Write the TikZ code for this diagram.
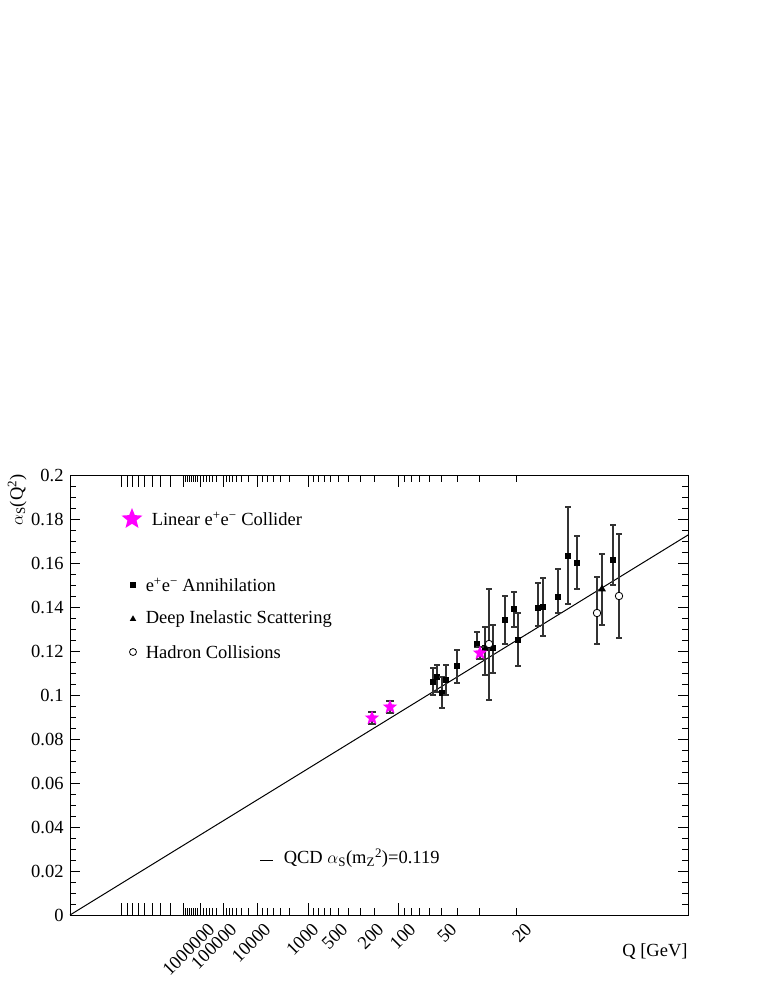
\documentclass[tikz,border=0pt]{standalone}
\usepackage{fontspec}
\setmainfont{Liberation Serif}
\usetikzlibrary{shapes.geometric}
\definecolor{mag}{RGB}{255,0,255}
\begin{document}
\begin{tikzpicture}[x=1pt,y=-1pt,line width=0.9pt,
  lbl/.style={font=\fontsize{18.5}{21}\selectfont},
  xl/.style={font=\fontsize{18.5}{21}\selectfont,rotate=45,anchor=north east,inner sep=1pt},
  sq/.style={fill=black,minimum size=6.5pt,inner sep=0pt},
  tri/.style={regular polygon,regular polygon sides=3,fill=black,minimum size=9pt,inner sep=0pt},
  circ/.style={circle,draw=black,line width=0.8pt,fill=white,minimum size=7.5pt,inner sep=0pt},
  starp/.style={star,star points=5,star point ratio=2.3,fill=mag,minimum size=15pt,inner sep=0pt},
  eb/.style={line width=1.1pt,black!80}]
\useasboundingbox (0,0) rectangle (763,987);
\draw (70,475) rectangle (688,915);
% y ticks
\foreach \i in {0,...,40}{
  \pgfmathsetmacro\yy{915-\i*11}
  \pgfmathsetmacro\len{ifthenelse(mod(\i,4)==0,10,6)}
  \draw (70,\yy) -- ++(\len,0);
  \draw (688,\yy) -- ++(-\len,0);
}
\foreach \v/\t in {0/0,1/0.02,2/0.04,3/0.06,4/0.08,5/0.1,6/0.12,7/0.14,8/0.16,9/0.18,10/0.2}
  \node[lbl,anchor=east,inner sep=0pt] at (64,915-\v*44) {\t};
% x ticks
\foreach \x/\h in {121/12,127/12,132/12,138/12,144/12,152/12,160/12,170/12,
   183/12,185/7,187/7,189/7,191/7,193/7,195/7,197/7,200/12,203/7,206/7,209/7,212/7,216/7,
   223/12,226/7,229/7,232/7,236/7,241/7,248/7,257/12,262/7,267/7,273/7,280/7,289/7,
   308/12,313/7,318/7,324/7,330/7,338/7,348/7,360/7,374/7,398/12,404/7,411/7,419/7,429/7,441/7,457/7,479/7,516/7}{
  \draw (\x,915) -- ++(0,-\h);
  \draw (\x,475) -- ++(0,\h);
}
\node[xl] at (207,920) {1000000};
\node[xl] at (229,920) {100000};
\node[xl] at (263,920) {10000};
\node[xl] at (311,920) {1000};
\node[xl] at (340,920) {500};
\node[xl] at (376,920) {200};
\node[xl] at (408,920) {100};
\node[xl] at (449,920) {50};
\node[xl] at (524,920) {20};
\node[lbl,anchor=north east,inner sep=0pt] at (688,943) {Q [GeV]};
\node[lbl,rotate=90,anchor=south east,inner sep=0pt] at (27,474) {$\alpha$\textsubscript{S}(Q\textsuperscript{2})};
% QCD line
\draw[line width=1pt] (70,915) -- (688,535);
% data: x, y, ylo, yhi
\foreach \x/\y/\a/\b in {433/682/668/695,437/677/665/692,442/693/677/708,446/680/665/695,457/666/650/683,
  477/644/632/647,485/648/627/675,493/648/625/673,505/620/596/644,514/609/592/627,518/640/613/666,
  538/608/583/626,543/607/578/636,558/597/569/613,568/556/507/604,577/563/536/589,613/560/525/585}{
  \draw[eb] (\x,\a) -- (\x,\b) (\x-3,\a) -- (\x+3,\a) (\x-3,\b) -- (\x+3,\b);
  \node[sq] at (\x,\y) {};
}
\foreach \x/\y/\a/\b in {489/644/589/700,597/613/577/644,619/596/534/638}{
  \draw[eb] (\x,\a) -- (\x,\b) (\x-3,\a) -- (\x+3,\a) (\x-3,\b) -- (\x+3,\b);
  \node[circ] at (\x,\y) {};
}
\draw[eb] (602,554) -- (602,625) (599,554) -- (605,554) (599,625) -- (605,625);
\node[tri] at (602,589) {};
\foreach \x/\y in {372/718,390/707,480/653}{
  \draw[eb] (\x,\y-6) -- (\x,\y+6) (\x-4,\y-6) -- (\x+4,\y-6) (\x-4,\y+6) -- (\x+4,\y+6);
  \node[starp] at (\x,\y) {};
}
% legend
\node[starp,minimum size=22pt] (ls) at (132,519) {};
\node[lbl,anchor=west] (lt1) at (148,519) {Linear e\textsuperscript{+}e\textsuperscript{−} Collider};
\node[sq] (l2) at (133,585) {};
\node[lbl,anchor=west] at (142,585) {e\textsuperscript{+}e\textsuperscript{−} Annihilation};
\node[tri,minimum size=7.5pt] (l3) at (133,619) {};
\node[lbl,anchor=west] at (142,619) {Deep Inelastic Scattering};
\node[circ,minimum size=7pt] (l4) at (133,652) {};
\node[lbl,anchor=west] at (142,652) {Hadron Collisions};
\draw (260,860) -- (273,860);
\node[lbl,anchor=west] at (280,858) {QCD $\alpha$\textsubscript{S}(m\textsubscript{Z}\textsuperscript{2})=0.119};
\end{tikzpicture}
\end{document}
